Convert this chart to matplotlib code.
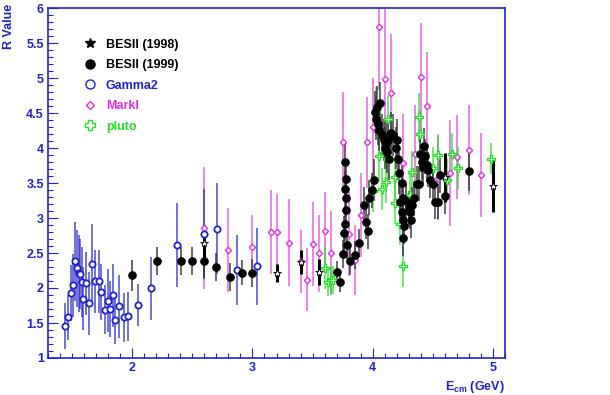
import numpy as np
import matplotlib
matplotlib.use('Agg')
import matplotlib.pyplot as plt
from matplotlib.lines import Line2D
from matplotlib.ticker import MultipleLocator

plt.rcParams['font.family'] = ['Liberation Sans', 'DejaVu Sans']
plt.rcParams['font.weight'] = 'bold'

# BESII 1998 (stars)
bes98_e = [2.60, 3.20, 3.40, 3.555, 4.60, 5.00]
bes98_r = [2.65, 2.21, 2.37, 2.23, 3.58, 3.46]
bes98_err = [0.25, 0.13, 0.17, 0.19, 0.35, 0.38]

# BESII 1999 (filled circles)
bes99_e = [2.00, 2.205, 2.41, 2.50, 2.60, 2.70, 2.81, 2.91, 3.00, 3.70,
           3.73, 3.75, 3.76, 3.77, 3.775, 3.775, 3.77, 3.775, 3.77, 3.785,
           3.81, 3.85, 3.89, 3.93, 3.945, 3.96, 3.97, 3.99, 4.01, 4.02,
           4.026, 4.034, 4.04, 4.053, 4.06, 4.075, 4.09, 4.10, 4.11, 4.117,
           4.13, 4.136, 4.153, 4.172, 4.19, 4.20, 4.21, 4.22, 4.23, 4.24,
           4.24, 4.25, 4.255, 4.255, 4.26, 4.278, 4.30, 4.31, 4.32, 4.325,
           4.347, 4.367, 4.386, 4.394, 4.41, 4.42, 4.43, 4.436, 4.45, 4.463,
           4.477, 4.505, 4.52, 4.54, 4.56, 4.60, 4.80]
bes99_r = [2.18, 2.38, 2.39, 2.39, 2.39, 2.30, 2.16, 2.22, 2.21, 2.23,
           2.09, 2.49, 2.78, 2.92, 3.11, 3.28, 3.42, 3.56, 3.80, 2.61,
           2.39, 2.47, 2.64, 3.19, 2.95, 2.81, 3.29, 3.40, 3.54, 4.52,
           4.42, 4.59, 4.35, 4.26, 4.65, 4.19, 4.11, 4.00, 4.07, 3.95,
           4.11, 3.85, 4.21, 4.19, 4.00, 4.12, 3.85, 3.64, 3.23, 3.50,
           3.09, 2.71, 3.28, 2.97, 2.88, 3.25, 3.14, 3.09, 2.97, 3.19,
           3.28, 3.49, 3.49, 3.91, 3.80, 3.73, 4.03, 3.88, 3.76, 3.69,
           3.54, 3.49, 3.23, 3.23, 3.61, 3.31, 3.67]
bes99_err = [0.22, 0.2, 0.2, 0.2, 0.25, 0.2, 0.2, 0.18, 0.2, 0.15,
             0.15, 0.2, 0.25, 0.25, 0.25, 0.25, 0.25, 0.25, 0.3, 0.2,
             0.2, 0.2, 0.2, 0.25, 0.25, 0.25, 0.25, 0.25, 0.3, 0.3,
             0.3, 0.3, 0.3, 0.3, 0.3, 0.3, 0.3, 0.3, 0.3, 0.3,
             0.3, 0.3, 0.3, 0.3, 0.3, 0.3, 0.3, 0.3, 0.25, 0.3,
             0.25, 0.25, 0.25, 0.25, 0.25, 0.25, 0.25, 0.25, 0.25, 0.25,
             0.25, 0.25, 0.25, 0.25, 0.25, 0.25, 0.25, 0.25, 0.25, 0.25,
             0.25, 0.25, 0.25, 0.25, 0.25, 0.25, 0.28]

# Gamma2 (open circles)
gamma2_e = [1.443, 1.47, 1.493, 1.51, 1.525, 1.543, 1.554, 1.568, 1.582, 1.615,
            1.595, 1.645, 1.67, 1.69, 1.72, 1.742, 1.77, 1.795, 1.817, 1.84,
            1.86, 1.89, 1.936, 1.964, 2.05, 2.155, 2.37, 2.593, 2.704, 2.875,
            3.037]
gamma2_r = [1.46, 1.58, 1.93, 2.04, 2.38, 2.28, 2.21, 2.20, 2.09, 2.07,
            1.85, 1.78, 2.34, 2.10, 2.10, 1.94, 1.69, 1.82, 1.70, 1.90,
            1.55, 1.74, 1.58, 1.60, 1.76, 2.00, 2.61, 2.77, 2.85, 2.26,
            2.31]
gamma2_err = [0.33, 0.32, 0.4, 0.45, 0.57, 0.55, 0.55, 0.5, 0.5, 0.45,
              0.45, 0.45, 0.57, 0.45, 0.45, 0.4, 0.35, 0.45, 0.4, 0.45,
              0.35, 0.45, 0.35, 0.35, 0.3, 0.45, 0.6, 0.64, 0.65, 0.5,
              0.55]

# MarkI (open diamonds)
marki_e = [2.60, 2.80, 3.00, 3.155, 3.20, 3.305, 3.40, 3.452, 3.505, 3.555,
           3.60, 3.655, 3.75, 3.804, 3.854, 3.904, 3.95, 4.006, 4.053, 4.10,
           4.153, 4.255, 4.352, 4.40, 4.45, 4.54, 4.643, 4.70, 4.80, 4.90]
marki_r = [2.86, 2.54, 2.59, 2.80, 2.80, 2.65, 2.38, 2.12, 2.63, 2.50,
           2.82, 2.50, 4.08, 2.77, 2.40, 3.04, 4.08, 4.30, 5.73, 4.98,
           4.78, 3.78, 3.91, 5.01, 4.60, 3.57, 3.64, 3.87, 3.97, 3.61]
marki_err = [0.87, 0.6, 0.45, 0.6, 0.55, 0.62, 0.45, 0.45, 0.6, 0.55,
             0.55, 0.6, 0.72, 0.6, 0.5, 0.6, 0.65, 0.7, 0.9, 1.0,
             0.85, 0.7, 0.7, 0.77, 0.77, 0.6, 0.76, 0.6, 0.64, 0.6]

# pluto (open crosses)
pluto_e = [3.60, 3.63, 3.65, 3.67, 4.00, 4.03, 4.05, 4.075, 4.11, 4.13,
           4.13, 4.186, 4.186, 4.228, 4.255, 4.31, 4.33, 4.386, 4.394, 4.505,
           4.54, 4.62, 4.66, 4.71, 4.985]
pluto_r = [2.29, 2.08, 2.11, 2.12, 3.38, 4.52, 3.88, 3.42, 3.51, 4.41,
           3.84, 3.59, 3.22, 2.92, 2.31, 3.33, 3.66, 4.44, 4.20, 3.72,
           3.90, 3.55, 3.91, 3.72, 3.85]
pluto_err = [0.3, 0.2, 0.2, 0.2, 0.3, 0.35, 0.35, 0.3, 0.3, 0.35,
             0.3, 0.3, 0.3, 0.3, 0.3, 0.3, 0.3, 0.35, 0.35, 0.3,
             0.3, 0.3, 0.3, 0.3, 0.22]

blue = '#2222cc'
magenta = '#e030e0'
green = '#22e022'
fs = 9

fig = plt.figure(figsize=(6.10, 3.95), dpi=100)
ax = fig.add_axes([48 / 610, 37 / 395, 457 / 610, 350 / 395])

# error bars first, markers on top
ax.errorbar(marki_e, marki_r, yerr=marki_err, fmt='none', ecolor=magenta, alpha=0.7, elinewidth=1.2, zorder=1)
ax.errorbar(gamma2_e, gamma2_r, yerr=gamma2_err, fmt='none', ecolor=blue, alpha=0.75, elinewidth=1.2, zorder=1)
ax.errorbar(pluto_e, pluto_r, yerr=pluto_err, fmt='none', ecolor=green, alpha=0.75, elinewidth=1.2, zorder=1)
ax.errorbar(bes99_e, bes99_r, yerr=bes99_err, fmt='none', ecolor='#333333', alpha=0.8, elinewidth=1.3, zorder=2)
ax.errorbar(bes98_e, bes98_r, yerr=bes98_err, fmt='none', ecolor='black', elinewidth=2.2, zorder=2)

ax.plot(marki_e, marki_r, 'D', ms=3.2, mfc='white', mec=magenta, mew=1.0, zorder=3)
ax.plot(gamma2_e, gamma2_r, 'o', ms=4.5, mfc='white', mec=blue, mew=1.3, zorder=3)
ax.plot(pluto_e, pluto_r, 'P', ms=5.5, mfc='white', mec=green, mew=1.0, zorder=3)
ax.plot(bes99_e, bes99_r, 'o', ms=5.2, color='black', zorder=4)
ax.plot(bes98_e, bes98_r, '*', ms=6, mfc='white', mec='black', mew=0.6, zorder=5)

ax.set_xlim(1.3, 5.1)
ax.set_ylim(1, 6)
ax.xaxis.set_major_locator(MultipleLocator(1))
ax.xaxis.set_minor_locator(MultipleLocator(0.1))
ax.yaxis.set_minor_locator(MultipleLocator(0.1))
ax.set_yticks([1, 1.5, 2, 2.5, 3, 3.5, 4, 4.5, 5, 5.5, 6])
ax.set_yticklabels(['1', '1.5', '2', '2.5', '3', '3.5', '4', '4.5', '5', '5.5', '6'])
ax.tick_params(which='both', direction='in', colors=blue, labelsize=fs,
               top=False, right=False)
ax.tick_params(which='major', length=7, width=0.8)
ax.tick_params(which='minor', length=3.5, width=0.8)
ax.tick_params(axis='y', pad=3)
ax.tick_params(axis='x', pad=3)
for lab in ax.get_xticklabels() + ax.get_yticklabels():
    lab.set_fontweight('bold')
for s in ax.spines.values():
    s.set_color(blue)
    s.set_linewidth(1.2)

fig.text(9 / 610, 1 - 4 / 395, 'R Value', rotation=90, ha='center', va='top',
         color=blue, fontsize=fs, fontweight='bold')
fig.text(505 / 610, 1 - 387 / 395, r'E$_{\mathregular{cm}}$ (GeV)', ha='right', va='center',
         color=blue, fontsize=fs, fontweight='bold')

handles = [
    Line2D([], [], ls='none', marker='*', ms=7, color='black'),
    Line2D([], [], ls='none', marker='o', ms=6.5, color='black'),
    Line2D([], [], ls='none', marker='o', ms=6.5, mfc='white', mec=blue, mew=1.0),
    Line2D([], [], ls='none', marker='D', ms=4.5, mfc='white', mec=magenta, mew=1.0),
    Line2D([], [], ls='none', marker='P', ms=7.5, mfc='white', mec=green, mew=1.0),
]
labels = ['BESII (1998)', 'BESII (1999)', 'Gamma2', 'MarkI', 'pluto']
ax.legend(handles, labels, loc='upper left', bbox_to_anchor=(0.05, 0.944),
          frameon=False, labelcolor=['black', 'black', blue, magenta, green],
          prop={'weight': 'bold', 'size': fs}, handletextpad=0.7,
          labelspacing=0.68, handlelength=1.2)

fig.savefig('out.png', dpi=100)
